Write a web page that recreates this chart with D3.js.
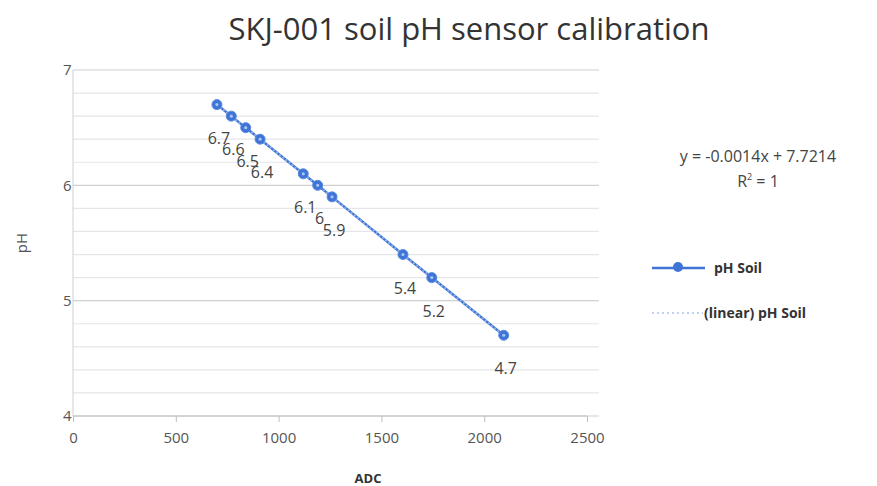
<!DOCTYPE html>
<html><head><meta charset="utf-8">
<script src="https://cdn.jsdelivr.net/npm/d3@7"></script>
<style>body{margin:0;background:#fff;} svg{display:block;}</style>
</head><body>
<svg id="c" width="877" height="486"></svg>
<script>
const adc = [700, 770, 840, 910, 1120, 1190, 1260, 1605, 1745, 2095];
const ph = [6.7, 6.6, 6.5, 6.4, 6.1, 6, 5.9, 5.4, 5.2, 4.7];
const pointLabels = ["6.7", "6.6", "6.5", "6.4", "6.1", "6", "5.9", "5.4", "5.2", "4.7"];
const xTicks = [0, 500, 1000, 1500, 2000, 2500];
const yTicks = [4, 5, 6, 7];
const title = "SKJ-001 soil pH sensor calibration";
const equation = "y = -0.0014x + 7.7214";
const seriesName = "pH Soil";
const trendName = "(linear) pH Soil";

const svg = d3.select("#c");
const font = "'Open Sans', 'Liberation Sans', sans-serif";
const blue = "#3e74d6";
const x = d3.scaleLinear().domain([0, 2500]).range([73, 587]);
const y = d3.scaleLinear().domain([4, 7]).range([416, 70]);

// gridlines every 0.2
const minor = d3.range(40, 71, 2).map(v => v / 10);
svg.append("g").selectAll("line").data(minor).join("line")
  .attr("x1", x(0)).attr("x2", x(2500) + 12)
  .attr("y1", d => y(d)).attr("y2", d => y(d))
  .attr("stroke", d => Math.abs(d - Math.round(d)) < 1e-6 ? "#cfcfd4" : "#e6e6ea")
  .attr("stroke-width", 1.2);

// axes
const xAxis = svg.append("g").attr("transform", `translate(0,${y(4)})`)
  .call(d3.axisBottom(x).tickValues(xTicks).tickSize(6).tickFormat(d3.format("d")));
xAxis.select(".domain").attr("stroke", "#bfbfc4").attr("d", `M${x(0)},0H${x(2500)}`);
xAxis.selectAll(".tick line").attr("stroke", "#bfbfc4");
xAxis.selectAll("text").attr("font-family", font).attr("font-size", 15).attr("fill", "#555").attr("dy", "1.2em");

const yAxis = svg.append("g").attr("transform", `translate(${x(0)},0)`)
  .call(d3.axisLeft(y).tickValues(yTicks).tickSize(0).tickFormat(d3.format("d")));
yAxis.select(".domain").attr("stroke", "#d0d0d5").attr("d", `M0,${y(7)}V${y(4)}`);
yAxis.selectAll("text").attr("font-family", font).attr("font-size", 15).attr("fill", "#555").attr("dx", "0.1em");

// series line
const pts = adc.map((a, i) => [a, ph[i]]);
const line = d3.line().x(d => x(d[0])).y(d => y(d[1]));
svg.append("path").datum(pts).attr("d", line).attr("fill", "none").attr("stroke", blue).attr("stroke-width", 2.5);

// trendline (least squares)
const mx = d3.mean(adc), my = d3.mean(ph);
const slope = d3.sum(adc, (a, i) => (a - mx) * (ph[i] - my)) / d3.sum(adc, a => (a - mx) ** 2);
const icpt = my - slope * mx;
const ext = d3.extent(adc);
svg.append("path").datum(ext.map(a => [a, icpt + slope * a])).attr("d", line)
  .attr("fill", "none").attr("stroke", "#8fb0ea").attr("stroke-width", 2).attr("stroke-dasharray", "2,2");

// markers
svg.append("g").selectAll("circle").data(pts).join("circle")
  .attr("cx", d => x(d[0])).attr("cy", d => y(d[1])).attr("r", 5)
  .attr("fill", blue).attr("stroke", "#5b8be0").attr("stroke-width", 1);
svg.append("g").selectAll("circle").data(pts).join("circle")
  .attr("cx", d => x(d[0])).attr("cy", d => y(d[1])).attr("r", 1.6)
  .attr("fill", "#a9c2f0");

// data labels
svg.append("g").selectAll("text").data(pts).join("text")
  .attr("x", d => x(d[0]) + 2).attr("y", d => y(d[1]) + 39)
  .attr("text-anchor", "middle").attr("font-family", font).attr("font-size", 16).attr("fill", "#444")
  .text((d, i) => pointLabels[i]);

// title
svg.append("text").attr("x", 469).attr("y", 40).attr("text-anchor", "middle")
  .attr("font-family", font).attr("font-size", 31).attr("fill", "#333").text(title);

// axis titles
svg.append("text").attr("transform", "translate(27,243) rotate(-90)").attr("text-anchor", "middle")
  .attr("font-family", font).attr("font-size", 15).attr("fill", "#555").text("pH");
svg.append("text").attr("x", 368).attr("y", 483).attr("text-anchor", "middle")
  .attr("font-family", font).attr("font-size", 13).attr("font-weight", "bold").attr("fill", "#333").text("ADC");

// equation
svg.append("text").attr("x", 758).attr("y", 162).attr("text-anchor", "middle")
  .attr("font-family", font).attr("font-size", 16).attr("fill", "#444").text(equation);
const r2 = svg.append("text").attr("x", 758).attr("y", 187).attr("text-anchor", "middle")
  .attr("font-family", font).attr("font-size", 16).attr("fill", "#444");
r2.append("tspan").text("R");
r2.append("tspan").attr("font-size", 9).attr("dy", -7).text("2");
r2.append("tspan").attr("dy", 7).text(" = 1");

// legend
const lg = svg.append("g");
lg.append("line").attr("x1", 652).attr("x2", 705).attr("y1", 268).attr("y2", 268).attr("stroke", blue).attr("stroke-width", 2.5);
lg.append("circle").attr("cx", 678).attr("cy", 267).attr("r", 5).attr("fill", blue);
lg.append("text").attr("x", 714).attr("y", 273).attr("font-family", font).attr("font-size", 14).attr("font-weight", "bold").attr("fill", "#333").text(seriesName);
lg.append("line").attr("x1", 652).attr("x2", 703).attr("y1", 313).attr("y2", 313).attr("stroke", "#a9c2f0").attr("stroke-width", 1.5).attr("stroke-dasharray", "2,3");
lg.append("text").attr("x", 704).attr("y", 318).attr("font-family", font).attr("font-size", 14).attr("font-weight", "bold").attr("fill", "#333").text(trendName);
</script>
</body></html>
